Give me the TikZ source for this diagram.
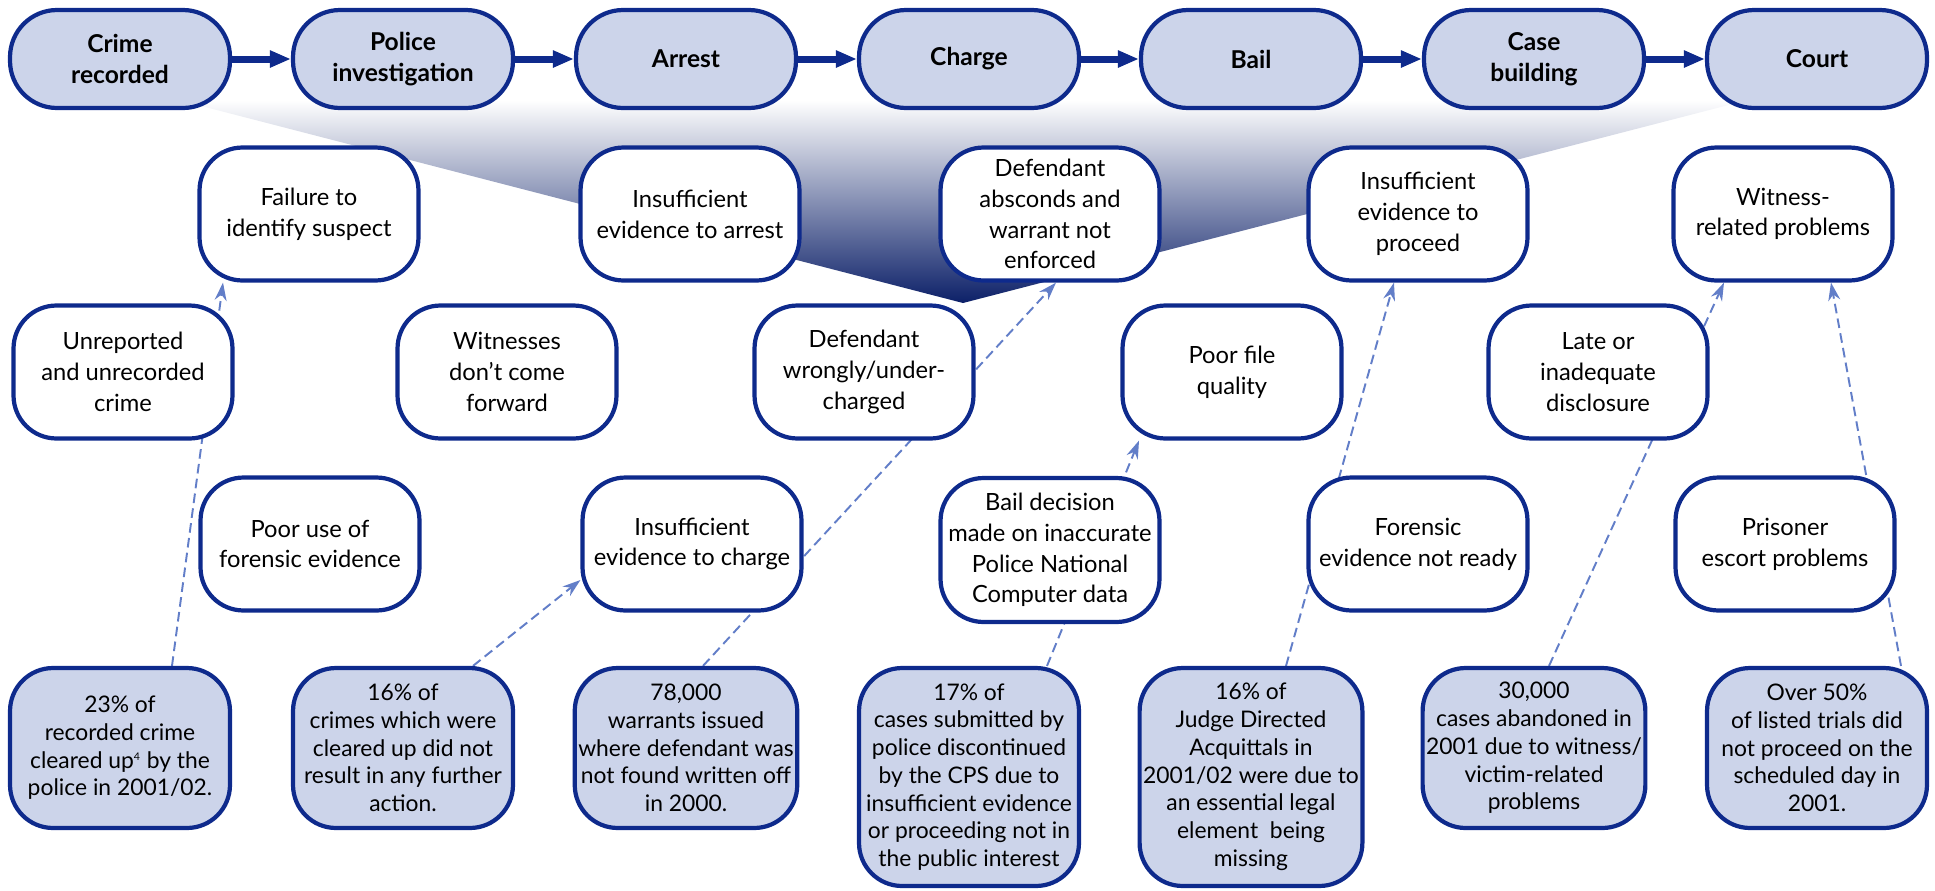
\documentclass[tikz,border=0pt]{standalone}
\usepackage{fontspec}
\setmainfont{Lato}
\usetikzlibrary{arrows.meta,calc}

\definecolor{navy}{RGB}{14,42,140}
\definecolor{paleblue}{RGB}{204,212,234}
\definecolor{linkblue}{RGB}{98,126,200}
\definecolor{deepnavy}{RGB}{12,32,104}

\pgfdeclarelayer{funnel}
\pgfdeclarelayer{links}
\pgfsetlayers{funnel,links,main}

\begin{document}
\begin{tikzpicture}[
        x=0.02cm, y=-0.02cm,
        stage/.style={
            draw=navy,
            line width=2.4pt,
            fill=paleblue,
            rounded corners=0.94cm,
            minimum width=4.4cm,
            minimum height=1.96cm,
            align=center,
            inner sep=2pt,
            font=\fontsize{14}{17.5}\selectfont\bfseries
        },
        cause/.style={
            draw=navy,
            line width=2.4pt,
            fill=white,
            rounded corners=0.86cm,
            minimum width=4.38cm,
            minimum height=2.66cm,
            align=center,
            inner sep=2pt,
            font=\fontsize{13.5}{17.5}\selectfont
        },
        fact/.style={
            cause,
            fill=paleblue,
            minimum width=4.4cm,
            minimum height=3.2cm,
            font=\fontsize{13}{15.8}\selectfont
        },
        flow/.style={-{Triangle[length=0.42cm,width=0.32cm]}, navy, line width=0.14cm},
        link/.style={-{Stealth[length=0.36cm,width=0.24cm]}, linkblue, line width=1.1pt, dash pattern=on 5.5pt off 3pt}
    ]

    \useasboundingbox (0,0) rectangle (1935,890);

    % stages of the process
    \node[stage] (crime) at (120,59) {Crime\\recorded};
    \node[stage] (police) at (403,59) {Police\\investigation};
    \node[stage] (arrest) at (686,59) {Arrest};
    \node[stage] (charge) at (969,59) {Charge};
    \node[stage] (bail) at (1251,59) {Bail};
    \node[stage] (casebuild) at (1534,59) {Case\\building};
    \node[stage] (court) at (1817,59) {Court};

    \draw[flow] (crime) -- (police);
    \draw[flow] (police) -- (arrest);
    \draw[flow] (arrest) -- (charge);
    \draw[flow] (charge) -- (bail);
    \draw[flow] (bail) -- (casebuild);
    \draw[flow] (casebuild) -- (court);

    % funnel behind the causes
    \begin{pgfonlayer}{funnel}
        \shade[top color=white, bottom color=deepnavy] (178,100) -- (963,303) -- (1748,100) -- cycle;
    \end{pgfonlayer}

    % causes
    \node[cause] (failid) at (309,214) {Failure to\\identify suspect};
    \node[cause] (noarrest) at (690,214) {Insufficient\\evidence to arrest};
    \node[cause] (abscond) at (1050,214) {Defendant\\absconds and\\warrant not\\enforced};
    \node[cause] (noproceed) at (1418,214) {Insufficient\\evidence to\\proceed};
    \node[cause] (witness) at (1783,214) {Witness-\\related problems};

    \node[cause] (unreported) at (123,372) {Unreported\\and unrecorded\\crime};
    \node[cause] (nowitness) at (507,372) {Witnesses\\don't come\\forward};
    \node[cause] (undercharge) at (864,372) {Defendant\\wrongly/under-\\charged};
    \node[cause] (filequality) at (1232,372) {Poor file\\quality};
    \node[cause] (disclosure) at (1598,372) {Late or\\inadequate\\disclosure};

    \node[cause] (forensicuse) at (310,544) {Poor use of\\forensic evidence};
    \node[cause] (nocharge) at (692,544) {Insufficient\\evidence to charge};
    \node[cause, minimum height=2.88cm] (baildecision) at (1050,550) {Bail decision\\made on inaccurate\\Police National\\Computer data};
    \node[cause] (notready) at (1418,544) {Forensic\\evidence not ready};
    \node[cause] (escort) at (1785,544) {Prisoner\\escort problems};

    % facts and figures
    \node[fact] (cleared) at (120,748) {23\% of\\recorded crime\\cleared up\textsuperscript{\fontsize{6}{7}\selectfont 4} by the\\police in 2001/02.};
    \node[fact] (nfa) at (403,748) {16\% of\\crimes which were\\cleared up did not\\result in any further\\action.};
    \node[fact] (warrants) at (686,748) {78,000\\warrants issued\\where defendant was\\not found written off\\in 2000.};
    \node[fact, minimum height=4.36cm] (discont) at (969,777) {17\% of\\cases submitted by\\police discontinued\\by the CPS due to\\insufficient evidence\\or proceeding not in\\the public interest};
    \node[fact, minimum height=4.36cm] (jda) at (1251,777) {16\% of\\Judge Directed\\Acquittals in\\2001/02 were due to\\an essential legal\\element\ \ being\\missing};
    \node[fact] (abandoned) at (1534,748) {30,000\\cases abandoned in\\2001 due to witness/\\victim-related\\problems};
    \node[fact] (ineffective) at (1817,748) {Over 50\%\\of listed trials did\\not proceed on the\\scheduled day in\\2001.};

    \begin{pgfonlayer}{links}
        \draw[link] ($(cleared.north)+(52,0)$) -- ($(failid.south)+(-86,0)$);
        \draw[link] ($(nfa.north)+(70,0)$) -- ($(nocharge.west)+(0,36)$);
        \draw[link] ($(warrants.north)+(17,0)$) -- ($(abscond.south)+(6,0)$);
        \draw[link] ($(discont.north)+(78,0)$) -- ($(filequality.south)+(-93,0)$);
        \draw[link] ($(jda.north)+(35,0)$) -- ($(noproceed.south)+(-24,0)$);
        \draw[link] ($(abandoned.north)+(15,0)$) -- ($(witness.south)+(-59,0)$);
        \draw[link] ($(ineffective.north)+(84,0)$) -- ($(witness.south)+(48,0)$);
    \end{pgfonlayer}

\end{tikzpicture}
\end{document}
